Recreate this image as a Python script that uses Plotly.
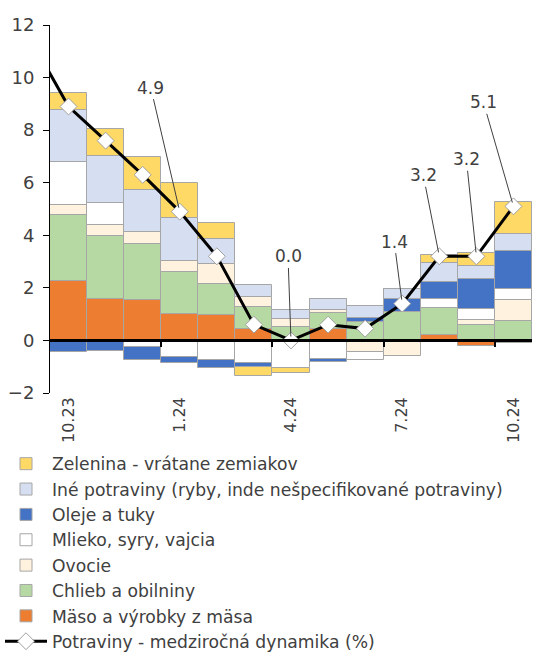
import plotly.graph_objects as go

# ---------------- data ----------------
months = ["10.23", "11.23", "12.23", "1.24", "2.24", "3.24", "4.24",
          "5.24", "6.24", "7.24", "8.24", "9.24", "10.24"]
tick_months = ["10.23", "1.24", "4.24", "7.24", "10.24"]

maso    = [2.25, 1.56, 1.52, 0.99, 0.95, 0.42, 0.00, 0.45, 0.00, 0.00, 0.20, -0.22, -0.10]
chlieb  = [2.53, 2.43, 2.13, 1.61, 1.18, 0.85, 0.50, 0.60, 0.70, 1.08, 1.04, 0.57, 0.73]
ovocie  = [0.39, 0.42, 0.49, 0.44, 0.76, 0.40, 0.30, 0.10, -0.45, -0.60, 0.00, 0.22, 0.81]
mlieko  = [1.60, 0.81, -0.25, -0.63, -0.73, -0.85, -1.05, -0.70, -0.28, 0.00, 0.32, 0.42, 0.42]
oleje   = [-0.45, -0.40, -0.50, -0.22, -0.32, -0.15, 0.00, -0.12, 0.15, 0.51, 0.67, 1.14, 1.46]
ine     = [2.00, 1.78, 1.60, 1.62, 0.98, 0.45, 0.35, 0.42, 0.45, 0.38, 0.72, 0.50, 0.63]
zelenina = [0.63, 1.05, 1.23, 1.33, 0.59, -0.35, -0.20, 0.00, 0.00, 0.00, 0.30, 0.47, 1.20]

# y/y food inflation; leading value belongs to 9.23 (line enters from the left edge)
prev_month = "9.23"
prev_value = 11.4
potraviny = [8.9, 7.6, 6.3, 4.9, 3.2, 0.6, 0.0, 0.6, 0.45, 1.4, 3.2, 3.2, 5.1]
labelled_idx = [3, 6, 9, 10, 11, 12]

series = [
    ("Mäso a výrobky z mäsa", maso, "#ED7D31"),
    ("Chlieb a obilniny", chlieb, "#B6D9A3"),
    ("Ovocie", ovocie, "#FFF2DE"),
    ("Mlieko, syry, vajcia", mlieko, "#FFFFFF"),
    ("Oleje a tuky", oleje, "#4472C4"),
    ("Iné potraviny (ryby, inde nešpecifikované potraviny)", ine, "#D5DFF1"),
    ("Zelenina - vrátane zemiakov", zelenina, "#FFD966"),
]

FONT = "DejaVu Sans"
TXT = "#404040"

x_idx = list(range(len(months)))

fig = go.Figure()
n = len(series)
for i, (name, vals, col) in enumerate(series):
    fig.add_trace(go.Bar(
        x=x_idx, y=vals, name=name,
        marker=dict(color=col, line=dict(color="#A6A6A6", width=1)),
        legendrank=n - i,
    ))

fig.add_trace(go.Scatter(
    x=[-1] + x_idx, y=[prev_value] + potraviny,
    name="Potraviny - medziročná dynamika (%)",
    mode="lines+markers",
    line=dict(color="black", width=3),
    marker=dict(symbol="diamond", size=13, color="white",
                line=dict(color="#A0A0A0", width=1)),
    legendrank=n + 1,
))

offsets = {3: (-29, -124), 6: (-3, -84), 9: (-8, -62),
           10: (-16, -81), 11: (-10, -97), 12: (-30, -104)}
for i in labelled_idx:
    ax, ay = offsets[i]
    fig.add_annotation(
        x=i, y=potraviny[i], text=f"{potraviny[i]:.1f}",
        showarrow=True, arrowhead=0, arrowwidth=1, arrowcolor="#404040",
        ax=ax, ay=ay, font=dict(family=FONT, size=17, color=TXT),
        standoff=4,
    )

fig.update_layout(
    width=547, height=657,
    margin=dict(l=50, r=15, t=25, b=264, autoexpand=False),
    paper_bgcolor="white", plot_bgcolor="white",
    barmode="relative", bargap=0,
    font=dict(family=FONT, size=16, color=TXT),
    showlegend=True,
    legend=dict(
        xref="container", yref="container", x=0.0, y=1 - 446 / 657,
        xanchor="left", yanchor="top", traceorder="normal",
        font=dict(family=FONT, size=17.2, color=TXT),
        bgcolor="rgba(0,0,0,0)", itemwidth=42,
    ),
    xaxis=dict(
        range=[-0.5, 12.5], tickmode="array",
        tickvals=[months.index(m) for m in tick_months], ticktext=tick_months,
        tickangle=-90, showline=False, ticks="", showgrid=False, zeroline=False,
        tickfont=dict(family=FONT, size=16, color=TXT),
    ),
    xaxis2=dict(
        range=[-0.5, 12.5], overlaying="x", anchor="free", position=2 / 14,
        tickmode="array", tickvals=[2.5, 5.5, 8.5, 11.5],
        showticklabels=False, ticks="outside", ticklen=5, tickwidth=2,
        tickcolor="black", showline=True, linecolor="black", linewidth=3,
        showgrid=False, zeroline=False, layer="above traces",
    ),
    yaxis=dict(
        range=[-2, 12], dtick=2, showline=True, linecolor="black", linewidth=1,
        ticks="outside", ticklen=6, tickcolor="black", showgrid=False,
        zeroline=False, tickfont=dict(family=FONT, size=18, color=TXT),
        ticklabelstandoff=5,
    ),
)

# invisible trace so that xaxis2 (the zero line with its tick marks) is drawn
fig.add_trace(go.Scatter(x=[0], y=[0], xaxis="x2", mode="markers",
                         marker=dict(opacity=0), showlegend=False, hoverinfo="skip"))

fig.write_html("out.html", config={"displayModeBar": False},
               post_script="document.body.style.margin='0px';")
